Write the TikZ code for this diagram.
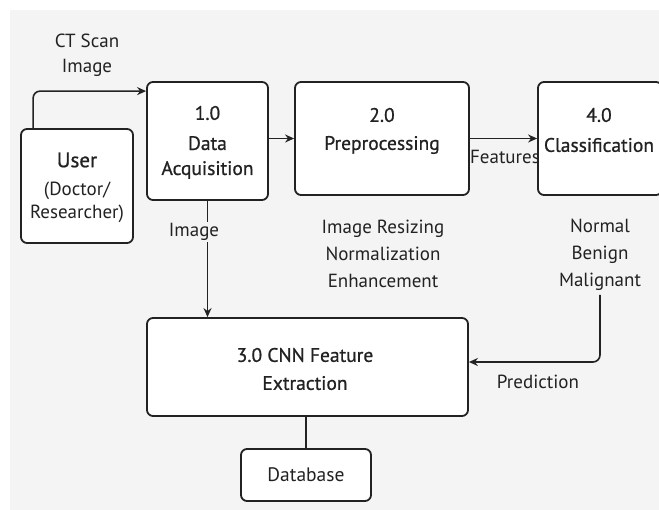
\documentclass[tikz,border=0pt]{standalone}
\usepackage{fontspec}
\setmainfont{PT Sans}
\newfontfamily\medfont[FakeBold=0.8]{PT Sans}
\usetikzlibrary{arrows.meta,calc}
\definecolor{bg}{HTML}{F4F4F4}
\definecolor{ink}{HTML}{222222}
\begin{document}
\begin{tikzpicture}[x=1pt,y=-1pt,
  box/.style={draw=ink,line width=1.8pt,rounded corners=6pt,fill=white,inner sep=0pt},
  ttl/.style={text=ink,font=\medfont\fontsize{19.5}{25}\selectfont,align=center,inner sep=0pt},
  lbl/.style={text=ink,font=\fontsize{19}{27}\selectfont,align=center,inner sep=2pt},
  conn/.style={draw=ink,line width=1.6pt,rounded corners=7pt},
  arr/.style={conn,-{Stealth[length=9pt,width=8pt]}}]
\useasboundingbox (0,0) rectangle (659,510);
\fill[white] (0,0) rectangle (659,510);
\fill[bg] (10,10) rectangle (659,510);
\begin{scope}
\clip (0,0) rectangle (659,510);
% boxes
\node[box,minimum width=112pt,minimum height=114pt] (user) at (77,186) {};
\node[box,minimum width=121pt,minimum height=118pt] (da) at (207.5,141) {};
\node[box,minimum width=174pt,minimum height=113pt] (pre) at (382,138.5) {};
\node[box,minimum width=124pt,minimum height=113pt] (cls) at (600,138.5) {};
\node[box,minimum width=321pt,minimum height=98pt] (cnn) at (307.5,367) {};
\node[box,minimum width=130pt,minimum height=52pt] (db) at (306,475) {};
\end{scope}
% box texts
\node[ttl,font=\medfont\fontsize{21}{25}\selectfont] (usert) at (77,160) {User};
\node[ttl,font=\fontsize{19}{23}\selectfont] (usersub) at (77,202) {(Doctor/\\Researcher)};
\node[ttl] (dan) at (207.5,113) {1.0};
\node[ttl] (dat) at (207.5,157.5) {Data\\Acquisition};
\node[ttl] (pren) at (382,115) {2.0};
\node[ttl] (pret) at (382,145) {Preprocessing};
\node[ttl] (clsn) at (599,115) {4.0};
\node[ttl] (clst) at (599,145) {Classification};
\node[ttl,font=\medfont\fontsize{19.5}{28}\selectfont] (cnnt) at (305,369) {3.0 CNN Feature\\Extraction};
\node[ttl,font=\fontsize{19.5}{25}\selectfont] (dbt) at (306,475) {Database};
% labels
\node[lbl,font=\fontsize{19}{25}\selectfont] (ct) at (87,55) {CT Scan\\Image};
\node[lbl] (pretx) at (383,254) {Image Resizing\\Normalization\\Enhancement};
\node[lbl,inner sep=4pt] (outs) at (600,255) {Normal\\Benign\\Malignant};
% connectors
\draw[arr] ($(user.north west)+(13,0)$) |- ([yshift=-10pt]da.north west);
\draw[arr] (da.east |- pre) -- (pre.west);
\draw[arr] (pre.east) -- (cls.west |- pre);
\draw[arr] (da.south) -- (da.south |- cnn.north);
\draw[arr] (outs.south) |- ($(cnn.east)+(0,-5)$);
\draw[conn] (cnn.south -| db.north) -- (db.north);
% connector labels
\node[lbl,fill=bg,inner sep=1pt] (imglbl) at (194,232) {Image};
\node[lbl,inner sep=0pt] (feat) at (505,157) {Features};
\node[lbl] (pred) at (538,382) {Prediction};
\end{tikzpicture}
\end{document}
